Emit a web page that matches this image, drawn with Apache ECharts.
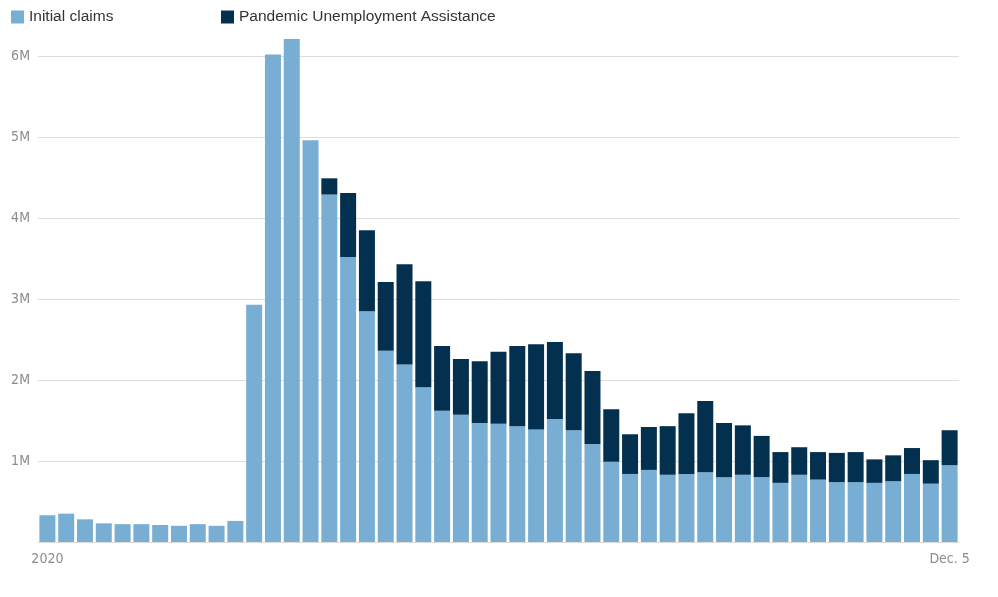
<!DOCTYPE html>
<html>
<head>
<meta charset="utf-8">
<title>Weekly jobless claims</title>
<script src="https://cdn.jsdelivr.net/npm/echarts@6/dist/echarts.min.js"></script>
<style>
  html, body { margin: 0; padding: 0; background: #fff; }
  #chart { width: 998px; height: 597px; }
</style>
</head>
<body>
<div id="chart"></div>
<script>
// week ending dates, 2020
const weeks = [
  'Jan. 4', 'Jan. 11', 'Jan. 18', 'Jan. 25', 'Feb. 1', 'Feb. 8', 'Feb. 15', 'Feb. 22', 'Feb. 29',
  'Mar. 7', 'Mar. 14', 'Mar. 21', 'Mar. 28', 'Apr. 4', 'Apr. 11', 'Apr. 18', 'Apr. 25',
  'May 2', 'May 9', 'May 16', 'May 23', 'May 30', 'June 6', 'June 13', 'June 20', 'June 27',
  'July 4', 'July 11', 'July 18', 'July 25', 'Aug. 1', 'Aug. 8', 'Aug. 15', 'Aug. 22', 'Aug. 29',
  'Sept. 5', 'Sept. 12', 'Sept. 19', 'Sept. 26', 'Oct. 3', 'Oct. 10', 'Oct. 17', 'Oct. 24', 'Oct. 31',
  'Nov. 7', 'Nov. 14', 'Nov. 21', 'Nov. 28', 'Dec. 5'
];
// only the first and last week get a label
const xTickLabels = ['2020', 'Dec. 5'];

// initial claims (not seasonally adjusted)
const initialClaims = [
  330000, 350000, 280000, 230000, 220000, 220000, 210000, 200000, 220000, 200000,
  260000, 2930000, 6020000, 6210000, 4960000, 4290000, 3520000, 2850000, 2360000, 2190000,
  1910000, 1620000, 1570000, 1470000, 1460000, 1430000, 1390000, 1520000, 1380000, 1210000,
  990000, 840000, 890000, 830000, 840000, 860000, 800000, 830000, 800000, 730000,
  830000, 770000, 740000, 740000, 730000, 750000, 840000, 720000, 950000
];
// pandemic unemployment assistance claims
const puaClaims = [
  0, 0, 0, 0, 0, 0, 0, 0, 0, 0,
  0, 0, 0, 0, 0, 200000, 790000, 1000000, 850000, 1240000,
  1310000, 800000, 690000, 760000, 890000, 990000, 1050000, 950000, 950000, 900000,
  650000, 490000, 530000, 600000, 750000, 880000, 670000, 610000, 510000, 380000,
  340000, 340000, 360000, 370000, 290000, 320000, 320000, 290000, 430000
];

const yTicks = [0, 1000000, 2000000, 3000000, 4000000, 5000000, 6000000];

const lightBlue = '#78aed3';
const navy = '#04304f';
const narrowFont = "'Liberation Sans Narrow', 'DejaVu Sans Condensed', sans-serif";
const legendText = { fontSize: 15.5, color: '#333', fontFamily: 'Liberation Sans, Arial, sans-serif' };

const chart = echarts.init(document.getElementById('chart'));
chart.setOption({
  animation: false,
  legend: [
    {
      data: ['Initial claims'],
      left: 6, top: 4,
      icon: 'rect', itemWidth: 13, itemHeight: 13,
      textStyle: legendText
    },
    {
      data: ['Pandemic Unemployment Assistance'],
      left: 216, top: 4,
      icon: 'rect', itemWidth: 13, itemHeight: 13,
      textStyle: legendText
    }
  ],
  grid: { left: 38, right: 39, top: 56, bottom: 55 },
  xAxis: {
    type: 'category',
    data: weeks,
    axisLine: { lineStyle: { color: '#ddd' } },
    axisTick: { show: false },
    axisLabel: {
      interval: (i) => i === 0 || i === weeks.length - 1,
      formatter: (v, i) => (i === 0 ? xTickLabels[0] : xTickLabels[1]),
      color: '#8c8c8c', fontSize: 14, fontFamily: narrowFont, margin: 10
    }
  },
  yAxis: {
    type: 'value',
    min: yTicks[0],
    max: yTicks[yTicks.length - 1],
    interval: 1000000,
    axisLine: { show: false },
    axisTick: { show: false },
    splitLine: { lineStyle: { color: '#ddd' } },
    axisLabel: {
      formatter: (v) => (v === 0 ? '' : v / 1000000 + 'M'),
      color: '#8c8c8c', fontSize: 14, fontFamily: narrowFont, margin: 8
    }
  },
  series: [
    {
      name: 'Initial claims',
      type: 'bar',
      stack: 'claims',
      data: initialClaims,
      barWidth: 16,
      clip: false,
      itemStyle: { color: lightBlue }
    },
    {
      name: 'Pandemic Unemployment Assistance',
      type: 'bar',
      stack: 'claims',
      data: puaClaims,
      barWidth: 16,
      clip: false,
      itemStyle: { color: navy }
    }
  ]
});
</script>
</body>
</html>
